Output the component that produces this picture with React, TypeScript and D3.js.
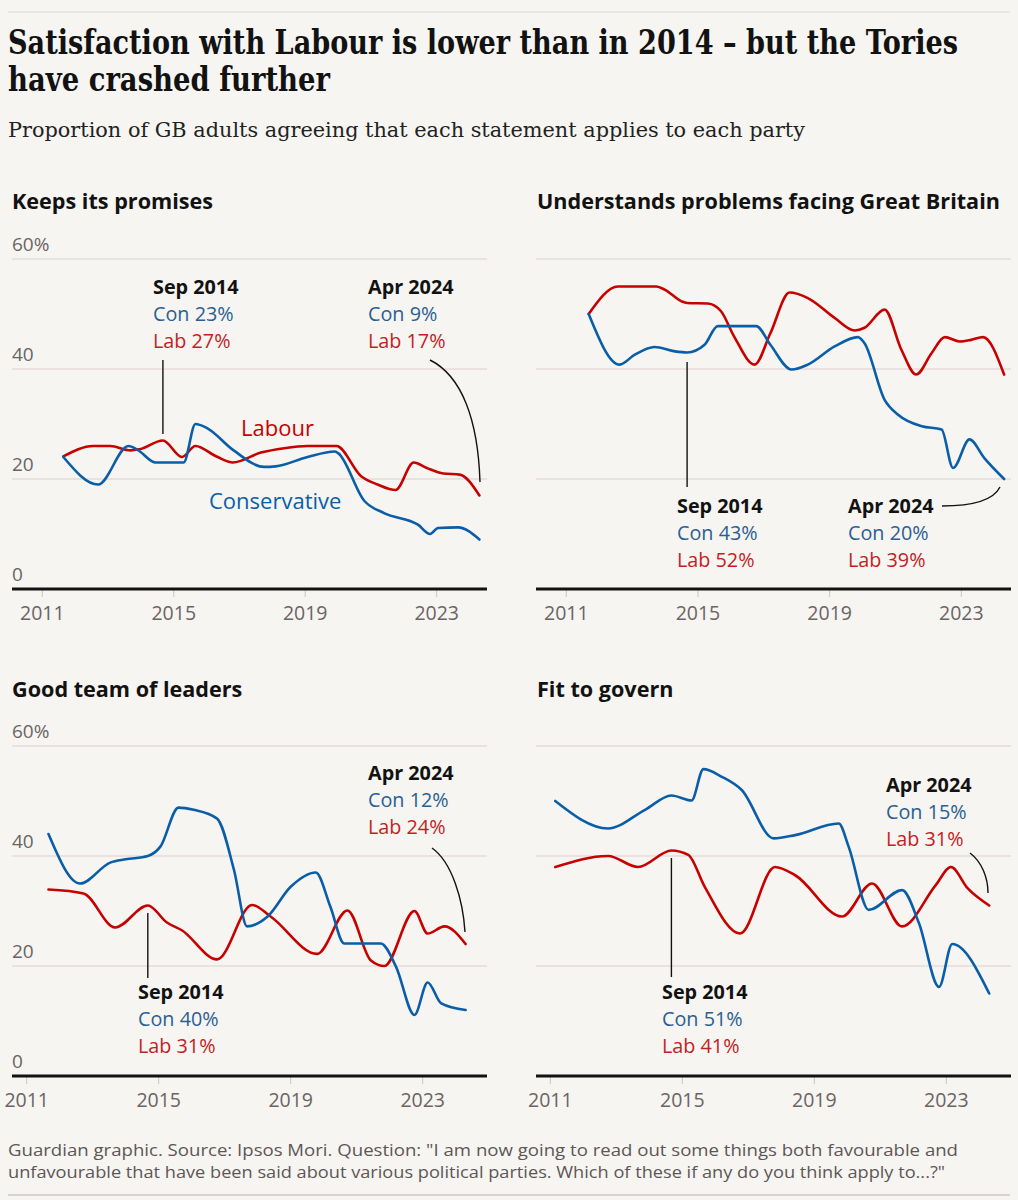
import React from 'react';
import * as d3 from 'd3';

type Pt = [number, number];

// ---------- DATA (decimal year, % agreeing) ----------
const yearTicks = [2011, 2015, 2019, 2023];
const valueTicks = [0, 20, 40, 60];
const valueTickLabels = ['0', '20', '40', '60%'];

const promisesCon: Pt[] = [[2011.64,24],[2012.7,19],[2013.62,26],[2013.9,25.3],[2014.45,23],[2014.67,23],[2015.3,23],[2015.66,30],[2016.0,29.3],[2016.8,25.3],[2017.75,22.2],[2018.1,22.3],[2019.07,24],[2019.9,25],[2020.0,24.7],[2020.8,16],[2021.4,13.8],[2022.43,11.7],[2022.8,10],[2023.04,11.1],[2023.65,11.2],[2024.3,9]];
const promisesLab: Pt[] = [[2011.64,24.1],[2012.55,26],[2013.07,26],[2013.68,25.2],[2013.95,25.4],[2014.67,27],[2015.25,24],[2015.66,26],[2016.3,24.1],[2016.8,23],[2017.65,24.8],[2018.36,25.6],[2019.07,26],[2019.95,26],[2020.7,20.5],[2021.2,19],[2021.75,18],[2022.3,23],[2022.7,22],[2023.2,21],[2023.7,20.8],[2024.3,17]];

const understandsCon: Pt[] = [[2011.68,50],[2012.62,40.8],[2013.08,42.6],[2013.68,44],[2014.3,43.2],[2014.67,43],[2015.2,44.4],[2015.6,47.8],[2016.77,47.8],[2017.2,44.4],[2017.84,39.9],[2018.34,40.8],[2019.15,44.1],[2019.86,45.8],[2020.06,44.7],[2020.67,34.4],[2021.08,31.7],[2021.8,29.6],[2022.4,29],[2022.75,22],[2023.25,27.2],[2023.7,23.8],[2024.3,20]];
const understandsLab: Pt[] = [[2011.68,50],[2012.57,55],[2013.73,55],[2014.0,54.4],[2014.5,52.3],[2014.67,52],[2015.3,51.9],[2015.7,50.5],[2016.1,45.9],[2016.72,40.8],[2017.2,46.5],[2017.78,53.9],[2018.34,52.9],[2019.15,49.3],[2019.76,47],[2020.06,47.5],[2020.67,50.8],[2021.18,43.5],[2021.63,39],[2022.1,42.9],[2022.5,45.8],[2022.95,45],[2023.3,45.3],[2023.66,45.8],[2024.3,39]];

const leadersCon: Pt[] = [[2011.66,44],[2012.62,35],[2013.53,38.8],[2014.0,39.4],[2014.67,40],[2015.05,41.7],[2015.6,48.8],[2016.06,48.4],[2016.77,46.8],[2017.28,37.5],[2017.68,27.2],[2018.3,29],[2019.0,34.4],[2019.76,37],[2020.2,30.8],[2020.62,24.1],[2021.73,24.1],[2022.19,19.9],[2022.75,11.1],[2023.15,17],[2023.56,13.2],[2024.3,12]];
const leadersLab: Pt[] = [[2011.66,33.9],[2012.72,33.2],[2013.68,27],[2014.67,31],[2015.25,27.9],[2015.7,26.5],[2016.77,21.2],[2017.83,31.1],[2018.39,29],[2019.8,22.2],[2020.72,30.1],[2021.43,21],[2021.84,20],[2022.75,30],[2023.15,25.9],[2023.66,27.2],[2024.3,24]];

const fitCon: Pt[] = [[2011.15,50],[2012.75,45],[2013.87,48.4],[2014.67,51],[2015.28,50.1],[2015.64,55.8],[2016.2,54.4],[2016.8,52],[2017.77,43.2],[2018.42,43.8],[2019.74,45.9],[2020.04,41.7],[2020.65,30.2],[2021.66,33.8],[2022.17,27.8],[2022.78,16.2],[2023.18,24],[2024.3,15]];
const fitLab: Pt[] = [[2011.15,38],[2012.75,40],[2013.66,38],[2014.67,41],[2015.18,40.2],[2015.68,34.4],[2016.75,25.9],[2017.81,38],[2018.42,36.5],[2019.84,29],[2020.75,35],[2021.66,27.2],[2022.68,34.7],[2023.14,38],[2023.65,34.1],[2024.3,31]];

const panelTitles = ['Keeps its promises', 'Understands problems facing Great Britain', 'Good team of leaders', 'Fit to govern'];
const sepLabels = [['Con 23%', 'Lab 27%'], ['Con 43%', 'Lab 52%'], ['Con 40%', 'Lab 31%'], ['Con 51%', 'Lab 41%']];
const aprLabels = [['Con 9%', 'Lab 17%'], ['Con 20%', 'Lab 39%'], ['Con 12%', 'Lab 24%'], ['Con 15%', 'Lab 31%']];
const sepYear = 2014.67;

// ---------- STYLE ----------
const SANS = "'Open Sans', 'Noto Sans', sans-serif";
const SERIF = "'DejaVu Serif', serif";
const BG = '#f6f5f1';
const RED = '#c70000';
const BLUE = '#0a5ea8';
const CON_TXT = '#2a5f93';
const LAB_TXT = '#c41e24';
const GRID = '#dcd0d0';
const INK = '#121212';
const GREY = '#6b6464';

interface Layout {
  x2011: number; x2023: number; y0: number; y60: number;
  gridL: number; gridR: number; titleX: number; titleY: number; showY: boolean;
  sep: { x: number; y: number; y1: number; y2: number };
  apr: { x: number; y: number; path: string };
}

const layouts: Layout[] = [
  { x2011: 42.3, x2023: 436.7, y0: 589, y60: 259, gridL: 12, gridR: 487, titleX: 12, titleY: 209, showY: true,
    sep: { x: 153, y: 294, y1: 360, y2: 434 },
    apr: { x: 368, y: 294, path: 'M430,360 C462,376 478,420 480,482' } },
  { x2011: 566.3, x2023: 961.3, y0: 589, y60: 259, gridL: 536, gridR: 1011, titleX: 537, titleY: 209, showY: false,
    sep: { x: 677, y: 513, y1: 362, y2: 487 },
    apr: { x: 848, y: 513, path: 'M942,506 C975,506 994,499 1000,487' } },
  { x2011: 26.7, x2023: 422.7, y0: 1076, y60: 746, gridL: 12, gridR: 487, titleX: 12, titleY: 697, showY: true,
    sep: { x: 138, y: 999, y1: 913, y2: 978 },
    apr: { x: 368, y: 780, path: 'M432,848 C452,862 463,900 465,932' } },
  { x2011: 550.3, x2023: 946.3, y0: 1076, y60: 746, gridL: 536, gridR: 1011, titleX: 537, titleY: 697, showY: false,
    sep: { x: 662, y: 999, y1: 858, y2: 977 },
    apr: { x: 886, y: 792, path: 'M970,853 C982,862 988,878 988,893' } },
];

const seriesData: [Pt[], Pt[]][] = [
  [promisesCon, promisesLab],
  [understandsCon, understandsLab],
  [leadersCon, leadersLab],
  [fitCon, fitLab],
];

function Annotation({ x, y, head, lines }: { x: number; y: number; head: string; lines: string[] }) {
  return (
    <g fontFamily={SANS}>
      <text x={x} y={y} fontSize={19.8} fontWeight={700} fill={INK}>{head}</text>
      <text x={x} y={y + 27} fontSize={19.8} fill={CON_TXT}>{lines[0]}</text>
      <text x={x} y={y + 54} fontSize={19.8} fill={LAB_TXT}>{lines[1]}</text>
    </g>
  );
}

function Panel({ i }: { i: number }) {
  const L = layouts[i];
  const x = d3.scaleLinear().domain([2011, 2023]).range([L.x2011, L.x2023]);
  const y = d3.scaleLinear().domain([0, 60]).range([L.y0, L.y60]);
  const line = d3.line<Pt>().x(d => x(d[0])).y(d => y(d[1])).curve(d3.curveMonotoneX);
  const [con, lab] = seriesData[i];
  return (
    <g>
      <text x={L.titleX} y={L.titleY} fontFamily={SANS} fontSize={21.6} fontWeight={700} fill={INK}>{panelTitles[i]}</text>
      {valueTicks.filter(v => v > 0).map(v => (
        <line key={v} x1={L.gridL} x2={L.gridR} y1={y(v)} y2={y(v)} stroke={GRID} strokeWidth={1.2} />
      ))}
      {L.showY && valueTicks.map((v, k) => (
        <text key={'yl' + v} x={12} y={y(v) - 8} fontFamily={SANS} fontSize={19} fill={GREY}>{valueTickLabels[k]}</text>
      ))}
      {yearTicks.map(t => (
        <g key={t}>
          <line x1={x(t)} x2={x(t)} y1={L.y0} y2={L.y0 + 8} stroke="#c9c4c4" strokeWidth={1} />
          <text x={x(t)} y={L.y0 + 31} textAnchor="middle" fontFamily={SANS} fontSize={19.5} fill={GREY}>{t}</text>
        </g>
      ))}
      <line x1={L.gridL} x2={L.gridR} y1={L.y0} y2={L.y0} stroke={INK} strokeWidth={3} />
      <path d={line(lab) || ''} fill="none" stroke={RED} strokeWidth={2.6} strokeLinejoin="round" strokeLinecap="round" />
      <path d={line(con) || ''} fill="none" stroke={BLUE} strokeWidth={2.6} strokeLinejoin="round" strokeLinecap="round" />
      <line x1={x(sepYear)} x2={x(sepYear)} y1={L.sep.y1} y2={L.sep.y2} stroke={INK} strokeWidth={1.4} />
      <path d={L.apr.path} fill="none" stroke={INK} strokeWidth={1.4} />
      <Annotation x={L.sep.x} y={L.sep.y} head="Sep 2014" lines={sepLabels[i]} />
      <Annotation x={L.apr.x} y={L.apr.y} head="Apr 2024" lines={aprLabels[i]} />
      {i === 0 && (
        <g fontFamily={SANS} fontSize={22}>
          <text x={241} y={436} fill={RED} fontWeight={500}>Labour</text>
          <text x={209} y={509} fill={BLUE} fontWeight={500}>Conservative</text>
        </g>
      )}
    </g>
  );
}

export default function App() {
  return (
    <svg width={1018} height={1200} viewBox="0 0 1018 1200"
      style={{ position: 'absolute', left: 0, top: 0, display: 'block' }}>
      <rect x={0} y={0} width={1018} height={1200} fill={BG} />
      <line x1={8} x2={1010} y1={12} y2={12} stroke="#dedbd6" strokeWidth={1} />
      <g transform="translate(8,54) scale(0.82,1)">
        <text x={0} y={0} fontFamily={SERIF} fontWeight={700} fontSize={33} fill={INK}
          textLength={950 / 0.82} lengthAdjust="spacingAndGlyphs">Satisfaction with Labour is lower than in 2014 – but the Tories</text>
      </g>
      <g transform="translate(8,91) scale(0.82,1)">
        <text x={0} y={0} fontFamily={SERIF} fontWeight={700} fontSize={33} fill={INK}
          textLength={322 / 0.82} lengthAdjust="spacingAndGlyphs">have crashed further</text>
      </g>
      <g transform="translate(8,137) scale(0.86,1)">
        <text x={0} y={0} fontFamily={SERIF} fontSize={21} fill="#222"
          textLength={797 / 0.86} lengthAdjust="spacingAndGlyphs">Proportion of GB adults agreeing that each statement applies to each party</text>
      </g>
      {[0, 1, 2, 3].map(i => <Panel key={i} i={i} />)}
      <text x={8} y={1156} fontFamily={SANS} fontSize={17} fill="#5e5656"
        textLength={950} lengthAdjust="spacingAndGlyphs">Guardian graphic. Source: Ipsos Mori. Question: "I am now going to read out some things both favourable and</text>
      <text x={8} y={1178} fontFamily={SANS} fontSize={17} fill="#5e5656"
        textLength={937} lengthAdjust="spacingAndGlyphs">unfavourable that have been said about various political parties. Which of these if any do you think apply to...?"</text>
      <line x1={8} x2={1010} y1={1195} y2={1195} stroke="#cfc7c7" strokeWidth={1.5} />
    </svg>
  );
}
